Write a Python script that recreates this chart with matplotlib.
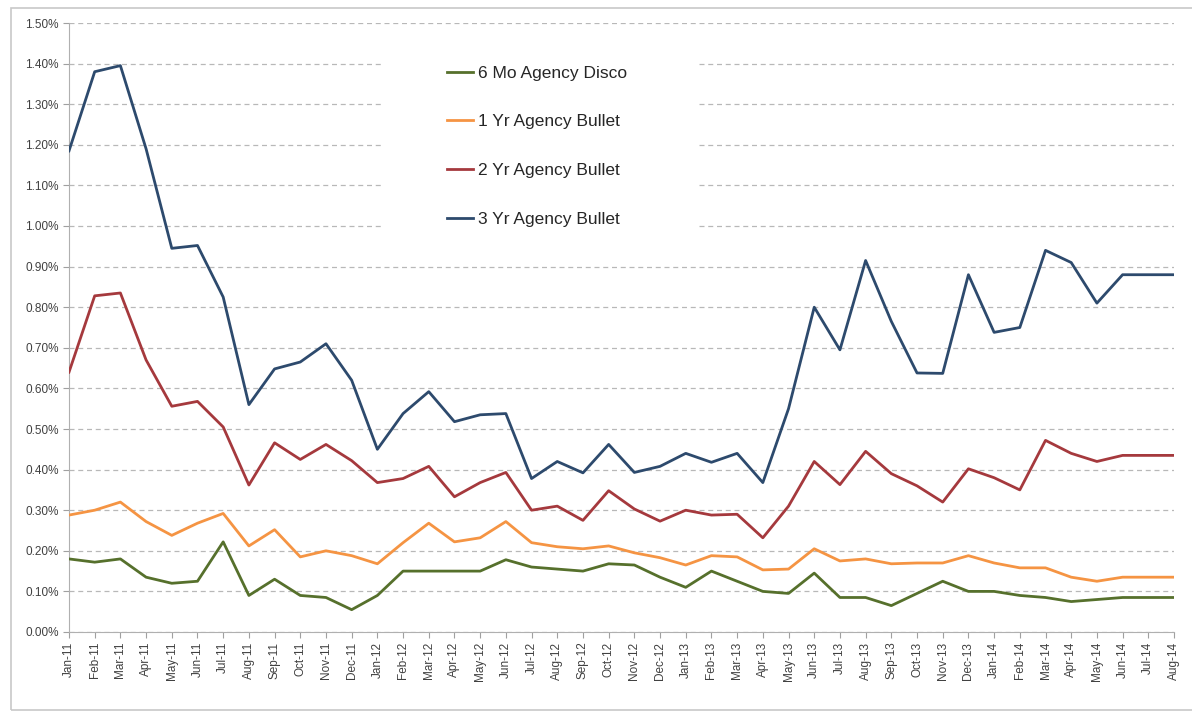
import numpy as np
import matplotlib.pyplot as plt
from matplotlib.patches import Rectangle
from matplotlib.ticker import FuncFormatter

# meses de Jan-11 a Aug-14
meses = ["Jan-11", "Feb-11", "Mar-11", "Apr-11", "May-11", "Jun-11", "Jul-11", "Aug-11",
         "Sep-11", "Oct-11", "Nov-11", "Dec-11", "Jan-12", "Feb-12", "Mar-12", "Apr-12",
         "May-12", "Jun-12", "Jul-12", "Aug-12", "Sep-12", "Oct-12", "Nov-12", "Dec-12",
         "Jan-13", "Feb-13", "Mar-13", "Apr-13", "May-13", "Jun-13", "Jul-13", "Aug-13",
         "Sep-13", "Oct-13", "Nov-13", "Dec-13", "Jan-14", "Feb-14", "Mar-14", "Apr-14",
         "May-14", "Jun-14", "Jul-14", "Aug-14"]

# valores em %
mo6_disco = [0.180, 0.172, 0.180, 0.135, 0.120, 0.125, 0.222, 0.090, 0.130, 0.090, 0.085,
             0.055, 0.090, 0.150, 0.150, 0.150, 0.150, 0.178, 0.160, 0.155, 0.150, 0.168,
             0.165, 0.135, 0.110, 0.150, 0.125, 0.100, 0.095, 0.145, 0.085, 0.085, 0.065,
             0.095, 0.125, 0.100, 0.100, 0.090, 0.085, 0.075, 0.080, 0.085, 0.085, 0.085]
yr1_bullet = [0.288, 0.300, 0.320, 0.272, 0.238, 0.268, 0.292, 0.212, 0.252, 0.185, 0.200,
              0.188, 0.168, 0.220, 0.268, 0.222, 0.232, 0.272, 0.220, 0.210, 0.205, 0.212,
              0.195, 0.183, 0.165, 0.188, 0.185, 0.153, 0.155, 0.205, 0.175, 0.180, 0.168,
              0.170, 0.170, 0.188, 0.170, 0.158, 0.158, 0.135, 0.125, 0.135, 0.135, 0.135]
yr2_bullet = [0.640, 0.828, 0.835, 0.670, 0.556, 0.568, 0.505, 0.362, 0.466, 0.425, 0.462,
              0.422, 0.368, 0.378, 0.408, 0.333, 0.368, 0.393, 0.300, 0.310, 0.275, 0.348,
              0.303, 0.273, 0.300, 0.288, 0.290, 0.232, 0.310, 0.420, 0.363, 0.445, 0.390,
              0.360, 0.320, 0.402, 0.380, 0.350, 0.472, 0.440, 0.420, 0.435, 0.435, 0.435]
yr3_bullet = [1.185, 1.380, 1.395, 1.190, 0.945, 0.952, 0.825, 0.560, 0.648, 0.665, 0.710,
              0.620, 0.450, 0.538, 0.592, 0.518, 0.535, 0.538, 0.378, 0.420, 0.392, 0.462,
              0.393, 0.408, 0.440, 0.418, 0.440, 0.368, 0.550, 0.800, 0.695, 0.915, 0.765,
              0.638, 0.637, 0.880, 0.738, 0.750, 0.940, 0.910, 0.810, 0.880, 0.880, 0.880]

series = [
    ("6 Mo Agency Disco", mo6_disco, "#56702c"),
    ("1 Yr Agency Bullet", yr1_bullet, "#f59443"),
    ("2 Yr Agency Bullet", yr2_bullet, "#a5393d"),
    ("3 Yr Agency Bullet", yr3_bullet, "#2d4a6d"),
]

plt.rcParams['font.family'] = ['Liberation Sans', 'DejaVu Sans']

fig = plt.figure(figsize=(11.92, 7.11), dpi=100)
# moldura cinza externa
fig.patches.append(Rectangle((11 / 1192, 1 / 711), 1.2, 702 / 711, transform=fig.transFigure,
                             fill=False, edgecolor="#c8c8c8", linewidth=1.2))
ax = fig.add_axes([69 / 1192, 79 / 711, 1105 / 1192, 609 / 711])

x = np.arange(len(meses))
for nome, valores, cor in series:
    ax.plot(x, valores, color=cor, linewidth=2.0, label=nome, zorder=3)

ax.set_xlim(0, len(meses) - 1)
ax.set_ylim(0, 1.5)
ax.set_yticks(np.arange(0, 1.51, 0.1))
ax.yaxis.set_major_formatter(FuncFormatter(lambda v, p: f"{v:.2f}%"))
ax.set_xticks(x)
ax.set_xticklabels(meses, rotation=90)
ax.tick_params(axis='both', labelsize=8.5, colors="#404040")
ax.tick_params(axis='x', length=4, color="#a0a0a0", pad=3)
ax.tick_params(axis='y', length=4, color="#a0a0a0")
ax.grid(axis='y', linestyle=(0, (4, 3)), color="#b8b8b8", linewidth=0.9)
ax.set_axisbelow(True)
for s in ["top", "right"]:
    ax.spines[s].set_visible(False)
for s in ["left", "bottom"]:
    ax.spines[s].set_color("#b0b0b0")

# fundo branco da legenda (esconde a grade)
ax.add_patch(Rectangle((0.283, 0.63), 0.285, 0.34, transform=ax.transAxes,
                       facecolor="white", edgecolor="none", zorder=1))

leg = ax.legend(loc='upper left', bbox_to_anchor=(0.342, 0.93), fontsize=12.5,
                frameon=False, handlelength=1.5, handletextpad=0.3, labelspacing=1.93,
                borderpad=0, borderaxespad=0)
for t in leg.get_texts():
    t.set_color("#262626")

fig.savefig("out.png", dpi=100)
